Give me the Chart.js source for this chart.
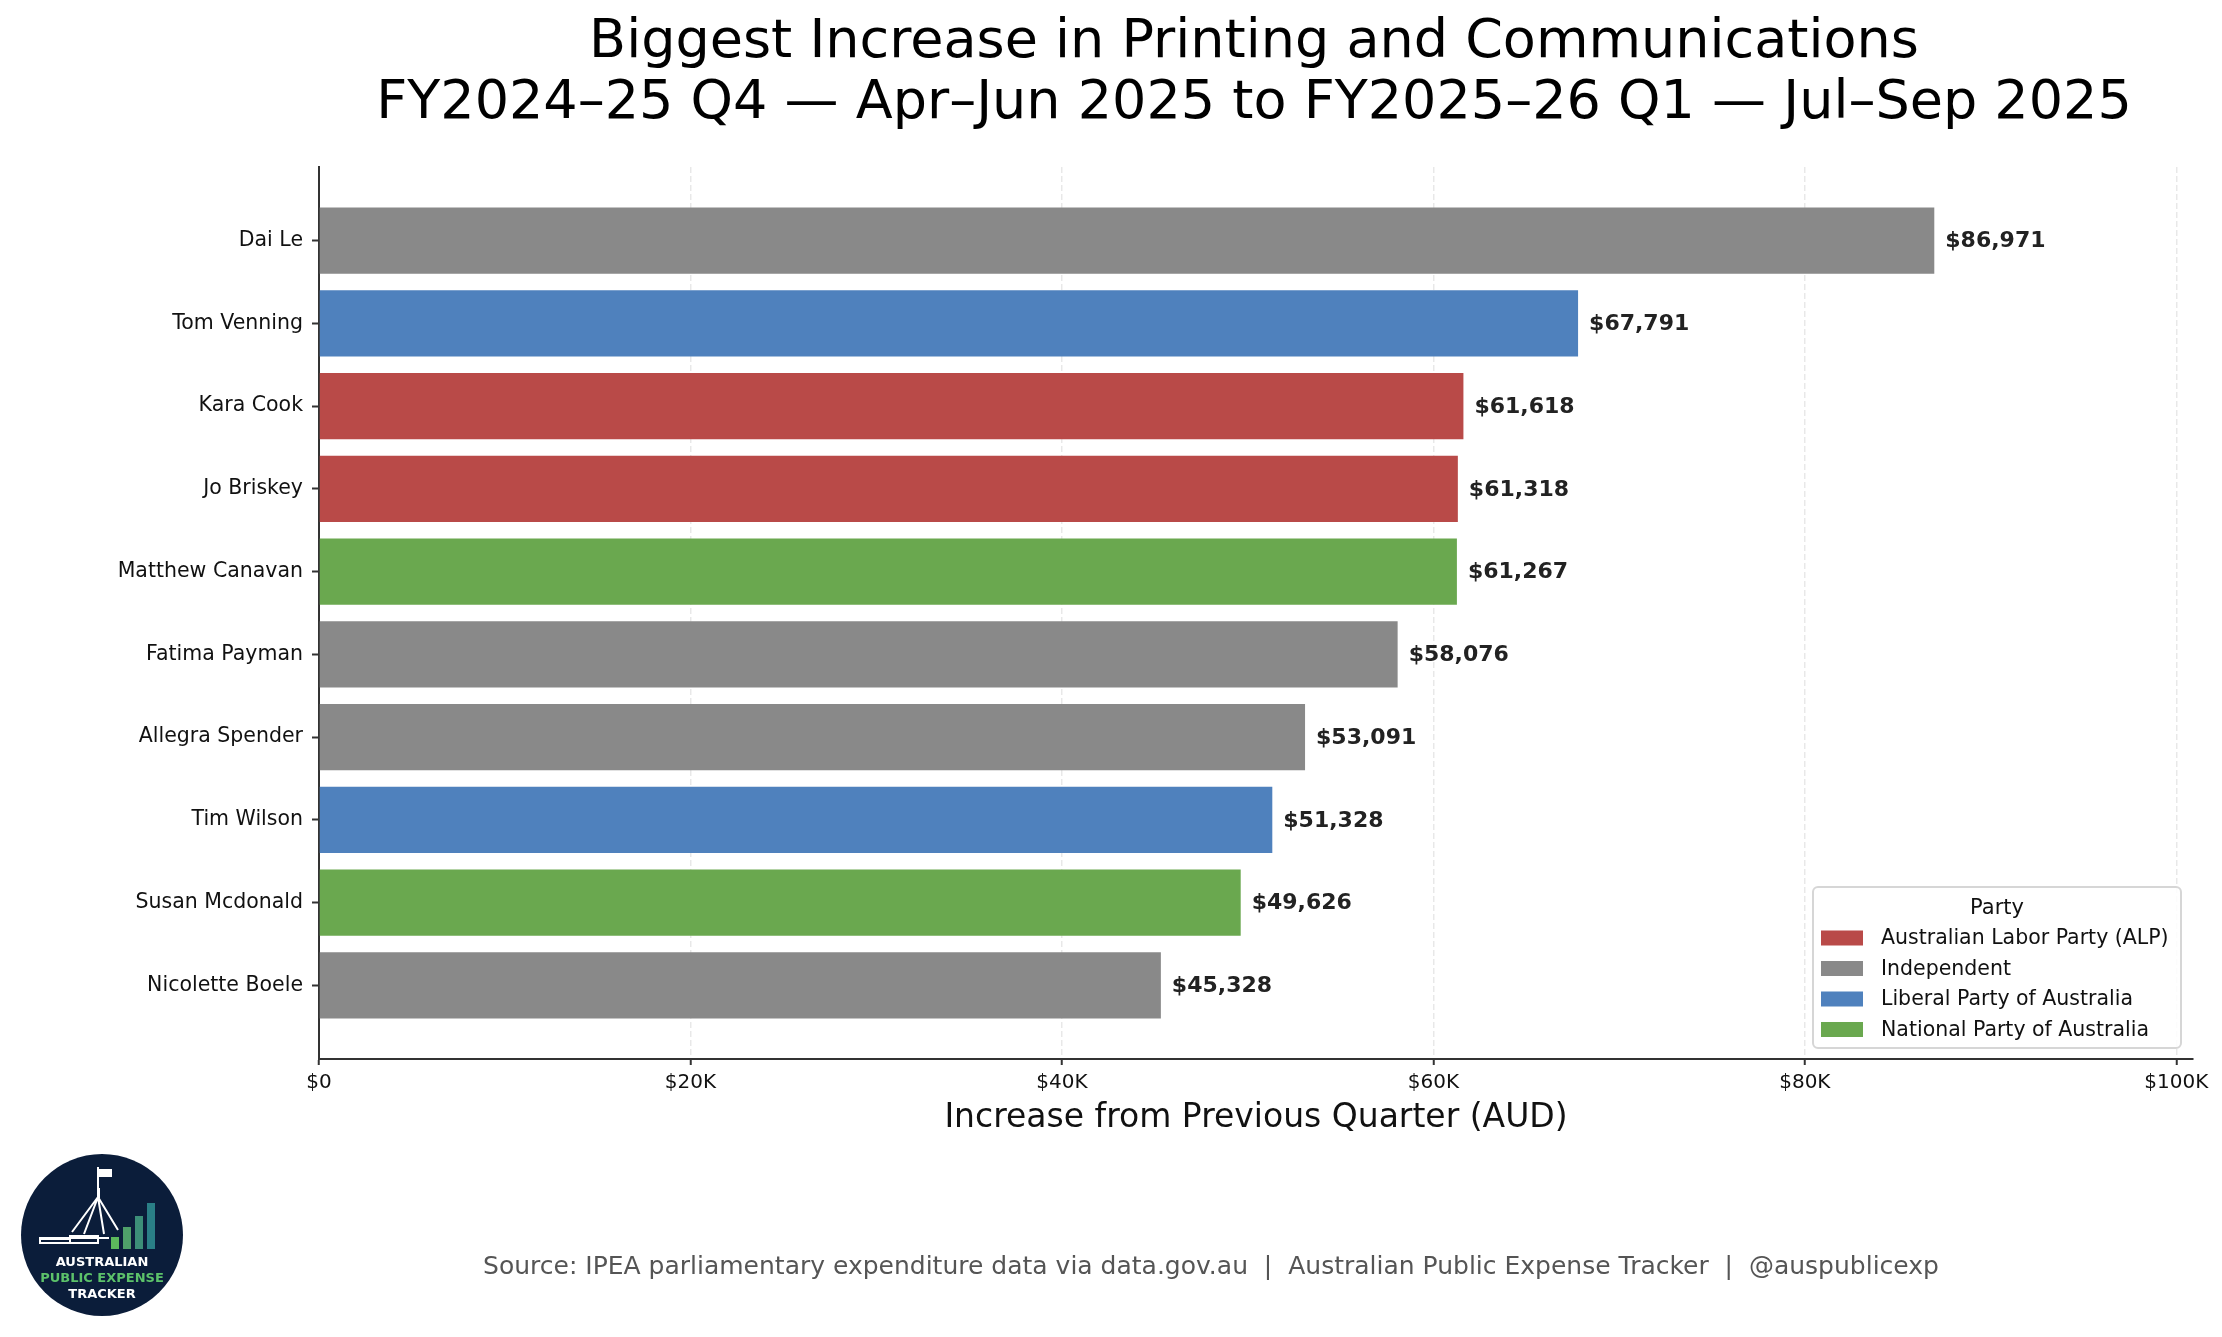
<!DOCTYPE html>
<html>
<head>
<meta charset="utf-8">
<script src="https://cdn.jsdelivr.net/npm/chart.js@4.4.1/dist/chart.umd.min.js"></script>
<style>
  html, body { margin: 0; padding: 0; background: #fff; }
  #wrap { width: 2222px; height: 1337px; position: relative; }
</style>
</head>
<body>
<div id="wrap"><canvas id="barChart"></canvas></div>
<script>
// data
var names = ["Dai Le", "Tom Venning", "Kara Cook", "Jo Briskey", "Matthew Canavan",
             "Fatima Payman", "Allegra Spender", "Tim Wilson", "Susan Mcdonald", "Nicolette Boele"];
var values = [86971, 67791, 61618, 61318, 61267, 58076, 53091, 51328, 49626, 45328];
var parties = ["IND", "LIB", "ALP", "ALP", "NAT", "IND", "IND", "LIB", "NAT", "IND"];

var partyKeys = ["ALP", "IND", "LIB", "NAT"];
var partyLabels = ["Australian Labor Party (ALP)", "Independent", "Liberal Party of Australia", "National Party of Australia"];
var partyColors = ["#b94a48", "#898989", "#4f81bd", "#6aa84f"];

var xTicks = [0, 20000, 40000, 60000, 80000, 100000];
var xMax = 100900;

var titleLines = ["Biggest Increase in Printing and Communications",
                  "FY2024\u201325 Q4 \u2014 Apr\u2013Jun 2025 to FY2025\u201326 Q1 \u2014 Jul\u2013Sep 2025"];
var xTitle = "Increase from Previous Quarter (AUD)";
var sourceText = "Source: IPEA parliamentary expenditure data via data.gov.au  |  Australian Public Expense Tracker  |  @auspublicexp";

var FONT = "'DejaVu Sans', sans-serif";

function colorOf(p) { return partyColors[partyKeys.indexOf(p)]; }

var points = values.map(function (v, i) { return {x: v, y: i}; });

// value labels at the end of each bar
var valueLabels = {
    id: 'valueLabels',
    afterDatasetsDraw: function (chart) {
        var ctx = chart.ctx;
        var meta = chart.getDatasetMeta(0);
        ctx.save();
        ctx.font = "bold 22px " + FONT;
        ctx.fillStyle = "#222";
        ctx.textAlign = "left";
        ctx.textBaseline = "middle";
        meta.data.forEach(function (bar, i) {
            ctx.fillText("$" + values[i].toLocaleString("en-US"), bar.x + 11, bar.y + 1);
        });
        ctx.restore();
    }
};

// title, legend, footer and logo
var decorations = {
    id: 'decorations',
    afterDraw: function (chart) {
        var ctx = chart.ctx;
        var area = chart.chartArea;
        var cx = (area.left + area.right) / 2;
        ctx.save();

        // title
        ctx.fillStyle = "#000";
        ctx.font = "54px " + FONT;
        ctx.textAlign = "center";
        ctx.textBaseline = "alphabetic";
        ctx.fillText(titleLines[0], cx - 2, 57);
        ctx.fillText(titleLines[1], cx - 2, 118);

        // legend
        var lx = 1813, ly = 887, lw = 368, lh = 161;
        ctx.beginPath();
        ctx.roundRect(lx, ly, lw, lh, 5);
        ctx.fillStyle = "rgba(255,255,255,0.85)";
        ctx.fill();
        ctx.lineWidth = 2;
        ctx.strokeStyle = "#d6d6d6";
        ctx.stroke();
        ctx.fillStyle = "#111";
        ctx.font = "21px " + FONT;
        ctx.textAlign = "center";
        ctx.fillText("Party", lx + lw / 2, 914);
        ctx.textAlign = "left";
        ctx.textBaseline = "middle";
        ctx.font = "20.5px " + FONT;
        for (var i = 0; i < partyLabels.length; i++) {
            var ry = 938 + i * 30.5;
            ctx.fillStyle = partyColors[i];
            ctx.fillRect(1821, ry - 7.5, 42, 15);
            ctx.fillStyle = "#111";
            ctx.fillText(partyLabels[i], 1881, ry + 1);
        }

        // footer
        ctx.textBaseline = "alphabetic";
        ctx.textAlign = "center";
        ctx.fillStyle = "#555";
        ctx.font = "25px " + FONT;
        ctx.fillText(sourceText, 1211, 1274);

        // logo
        var ox = 102, oy = 1235, r = 81;
        ctx.beginPath();
        ctx.arc(ox, oy, r, 0, Math.PI * 2);
        ctx.fillStyle = "#0b1d3a";
        ctx.fill();
        // building
        ctx.strokeStyle = "#fff";
        ctx.fillStyle = "#fff";
        ctx.lineWidth = 2;
        ctx.fillRect(39, 1237, 70, 2);
        ctx.strokeRect(40, 1239, 30, 4);
        ctx.strokeRect(70, 1236, 28, 7);
        ctx.fillRect(97, 1188, 3, 10);
        ctx.beginPath();
        ctx.moveTo(98, 1197); ctx.lineTo(72, 1232);
        ctx.moveTo(98, 1197); ctx.lineTo(84, 1234);
        ctx.moveTo(98, 1197); ctx.lineTo(104, 1234);
        ctx.moveTo(98, 1197); ctx.lineTo(118, 1230);
        ctx.stroke();
        ctx.fillRect(97, 1167, 2, 22);
        ctx.fillRect(99, 1169, 13, 8);
        // bars
        var bx = [111, 123, 135, 147], btop = [1237, 1227, 1216, 1203];
        var bcol = ["#5cb85c", "#4fa06a", "#3c8f78", "#2a7f86"];
        for (var j = 0; j < 4; j++) {
            ctx.fillStyle = bcol[j];
            ctx.fillRect(bx[j], btop[j], 8, 1249 - btop[j]);
        }
        ctx.textAlign = "center";
        ctx.textBaseline = "middle";
        ctx.font = "bold 13px " + FONT;
        ctx.fillStyle = "#fff";
        ctx.fillText("AUSTRALIAN", ox, 1263);
        ctx.fillStyle = "#5cc26a";
        ctx.fillText("PUBLIC EXPENSE", ox, 1279);
        ctx.fillStyle = "#fff";
        ctx.fillText("TRACKER", ox, 1295);

        ctx.restore();
    }
};

var barChart = new Chart(document.getElementById("barChart"), {
    type: 'bar',
    data: {
        datasets: [{
            data: points,
            backgroundColor: parties.map(colorOf),
            borderWidth: 0,
            categoryPercentage: 1,
            barPercentage: 0.8
        }]
    },
    options: {
        indexAxis: 'y',
        responsive: true,
        maintainAspectRatio: false,
        animation: false,
        devicePixelRatio: 1,
        layout: {padding: {top: 167, right: 29, bottom: 199, left: 0}},
        plugins: {
            legend: {display: false},
            title: {display: false},
            tooltip: {enabled: false}
        },
        scales: {
            y: {
                type: 'linear',
                reverse: true,
                offset: false,
                min: -0.89,
                max: 9.89,
                afterBuildTicks: function (scale) {
                    scale.ticks = names.map(function (n, i) { return {value: i}; });
                },
                afterFit: function (scale) { scale.width = 319; },
                grid: {display: true, offset: false, drawOnChartArea: false, drawTicks: true, tickLength: 7, color: '#333', tickWidth: 2},
                border: {display: true, color: '#333', width: 2},
                ticks: {
                    padding: 9,
                    color: '#111',
                    font: {family: FONT, size: 20.5},
                    callback: function (v) { return names[v]; }
                }
            },
            x: {
                type: 'linear',
                min: 0,
                max: xMax,
                z: 1,
                afterBuildTicks: function (scale) {
                    scale.ticks = xTicks.map(function (v) { return {value: v}; });
                },
                afterFit: function (scale) { scale.height = 79; },
                grid: {
                    color: 'rgba(0,0,0,0.09)',
                    lineWidth: 1.5,
                    tickColor: '#333',
                    tickWidth: 2,
                    tickLength: 6,
                    tickBorderDash: []
                },
                border: {display: true, color: '#333', width: 2, dash: [6, 3]},
                ticks: {
                    padding: 6,
                    color: '#111',
                    maxRotation: 0,
                    font: {family: FONT, size: 20},
                    callback: function (v) { return v === 0 ? '$0' : '$' + (v / 1000) + 'K'; }
                },
                title: {
                    display: true,
                    text: xTitle,
                    color: '#111',
                    padding: 0,
                    font: {family: FONT, size: 33}
                }
            }
        }
    },
    plugins: [valueLabels, decorations]
});
</script>
</body>
</html>
